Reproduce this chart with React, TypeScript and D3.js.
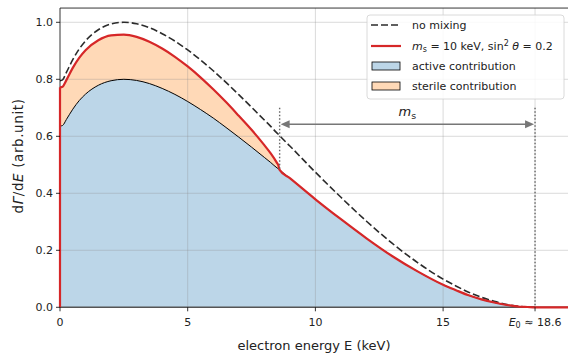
import React, { useEffect, useRef } from 'react';
import * as d3 from 'd3';

// electron energy (keV)
const energy = [0, 0.1, 0.25, 0.5, 0.75, 1, 1.5, 2, 2.5, 3, 3.5, 4, 4.5, 5, 5.5, 6, 6.5, 7, 7.5, 8, 8.25, 8.5, 8.55, 8.6,
  9, 10, 11, 12, 13, 14, 15, 15.5, 16, 16.5, 17, 17.5, 18, 18.3, 18.6];
// no mixing spectrum (dashed)
const noMixing = [0.795, 0.798, 0.824, 0.869, 0.906, 0.935, 0.974, 0.994, 1.0, 0.995, 0.981, 0.96, 0.934, 0.903, 0.868, 0.83,
  0.789, 0.746, 0.702, 0.657, 0.635, 0.611, 0.607, 0.602, 0.566, 0.474, 0.386, 0.302, 0.225, 0.157, 0.099, 0.075, 0.053,
  0.035, 0.021, 0.01, 0.003, 0.001, 0];
// active contribution (blue)
const active = [0.636, 0.638, 0.659, 0.695, 0.725, 0.748, 0.779, 0.795, 0.8, 0.796, 0.785, 0.768, 0.747, 0.722, 0.694, 0.664,
  0.631, 0.597, 0.562, 0.526, 0.508, 0.489, 0.486, 0.482, 0.453, 0.379, 0.309, 0.242, 0.18, 0.126, 0.079, 0.06, 0.042,
  0.028, 0.017, 0.008, 0.002, 0.001, 0];
// with sterile mixing, only up to E0 - ms
const mixed = [0.772, 0.774, 0.797, 0.84, 0.875, 0.902, 0.937, 0.954, 0.957, 0.949, 0.932, 0.908, 0.879, 0.845, 0.807, 0.765,
  0.72, 0.672, 0.623, 0.569, 0.54, 0.506, 0.498, 0.482];

const E0 = 18.6;
const kinkE = 8.6;
const xTicks = [0, 5, 10, 15];
const yTicks = [0, 0.2, 0.4, 0.6, 0.8, 1.0];
const legendLabels = ['no mixing', 'ms', 'active contribution', 'sterile contribution'];

const FONT = 'DejaVu Sans, sans-serif';
const RED = '#d62728';

const App = () => {
  const svgRef = useRef<SVGSVGElement>(null);

  useEffect(() => {
    const W = 568, H = 356;
    const margin = { top: 8, left: 60 };
    const root = d3.select(svgRef.current);
    root.selectAll('*').remove();
    root.attr('width', W).attr('height', H);

    const x = d3.scaleLinear().domain([0, 20]).range([margin.left, margin.left + 20 * 25.54]);
    const y = d3.scaleLinear().domain([0, 1.05]).range([307.3, 307.3 - 1.05 * 285]);

    const svg = root.append('g');
    const pts = energy.map((e, i) => ({ e, nm: noMixing[i], a: active[i] }));
    const mixPts = mixed.map((v, i) => ({ e: energy[i], a: active[i], m: v }));

    // fills
    svg.append('path')
      .datum(pts)
      .attr('d', d3.area<any>().x(d => x(d.e)).y0(y(0)).y1(d => y(d.a)).curve(d3.curveMonotoneX))
      .attr('fill', '#bcd6e8');
    svg.append('path')
      .datum(mixPts)
      .attr('d', d3.area<any>().x(d => x(d.e)).y0(d => y(d.a)).y1(d => y(d.m)).curve(d3.curveMonotoneX))
      .attr('fill', '#ffd9b7');

    // grid
    const grid = svg.append('g').attr('stroke', '#8a8a8a').attr('stroke-opacity', 0.4).attr('stroke-width', 0.8);
    [...xTicks.slice(1), E0].forEach(t => {
      grid.append('line').attr('x1', x(t)).attr('x2', x(t)).attr('y1', y(1.05)).attr('y2', y(0));
    });
    yTicks.slice(1).forEach(t => {
      grid.append('line').attr('x1', x(0)).attr('x2', W).attr('y1', y(t)).attr('y2', y(t));
    });

    // active line
    svg.append('path')
      .datum(pts)
      .attr('d', d3.line<any>().x(d => x(d.e)).y(d => y(d.a)).curve(d3.curveMonotoneX))
      .attr('fill', 'none').attr('stroke', '#000').attr('stroke-width', 1);

    // no mixing
    svg.append('path')
      .datum(pts)
      .attr('d', d3.line<any>().x(d => x(d.e)).y(d => y(d.nm)).curve(d3.curveMonotoneX))
      .attr('fill', 'none').attr('stroke', '#2b2b2b').attr('stroke-width', 1.6).attr('stroke-dasharray', '7,3');

    // bottom spine
    svg.append('line').attr('x1', x(0)).attr('x2', W).attr('y1', y(0)).attr('y2', y(0))
      .attr('stroke', '#555').attr('stroke-width', 1.6);
    // top / left spine
    svg.append('line').attr('x1', x(0)).attr('x2', W).attr('y1', y(1.05)).attr('y2', y(1.05))
      .attr('stroke', '#000').attr('stroke-width', 0.8);
    svg.append('line').attr('x1', x(0)).attr('x2', x(0)).attr('y1', y(1.05)).attr('y2', y(0))
      .attr('stroke', '#000').attr('stroke-width', 0.8);

    // mixed spectrum line
    const redPts = [
      ...mixPts.map(d => [d.e, d.m]),
      ...pts.filter(d => d.e > kinkE).map(d => [d.e, d.a]),
      [20, 0],
    ];
    svg.append('line').attr('x1', x(0)).attr('x2', x(0)).attr('y1', y(0)).attr('y2', y(mixed[0]))
      .attr('stroke', RED).attr('stroke-width', 2.2);
    svg.append('path')
      .datum(redPts)
      .attr('d', d3.line<any>().x(d => x(d[0])).y(d => y(d[1])).curve(d3.curveMonotoneX))
      .attr('fill', 'none').attr('stroke', RED).attr('stroke-width', 2.2).attr('stroke-linejoin', 'round');

    // dotted markers
    svg.append('line').attr('x1', x(kinkE)).attr('x2', x(kinkE)).attr('y1', y(0.70)).attr('y2', y(mixed[mixed.length - 1]))
      .attr('stroke', '#666').attr('stroke-width', 1.4).attr('stroke-dasharray', '1.5,2');
    svg.append('line').attr('x1', x(E0)).attr('x2', x(E0)).attr('y1', y(0.70)).attr('y2', y(0))
      .attr('stroke', '#666').attr('stroke-width', 1.4).attr('stroke-dasharray', '1.5,2');

    // ms arrow
    const ay = y(0.642);
    const a1 = x(kinkE) + 1, a2 = x(E0) - 1;
    svg.append('line').attr('x1', a1 + 6).attr('x2', a2 - 6).attr('y1', ay).attr('y2', ay)
      .attr('stroke', '#777').attr('stroke-width', 1.5);
    svg.append('path').attr('d', `M${a1},${ay} l9,-4 l0,8 z`).attr('fill', '#777');
    svg.append('path').attr('d', `M${a2},${ay} l-9,-4 l0,8 z`).attr('fill', '#777');
    const msText = svg.append('text').attr('x', x((kinkE + E0) / 2)).attr('y', ay - 8)
      .attr('text-anchor', 'middle').attr('font-family', FONT).attr('font-size', 13).attr('fill', '#222');
    msText.append('tspan').attr('font-style', 'italic').text('m');
    msText.append('tspan').attr('font-size', 9.5).attr('dy', 2.5).text('s');

    // x ticks
    const xt = svg.append('g').attr('font-family', FONT).attr('font-size', 11).attr('fill', '#222');
    [...xTicks, E0].forEach(t => {
      xt.append('line').attr('x1', x(t)).attr('x2', x(t)).attr('y1', y(0)).attr('y2', y(0) + 4)
        .attr('stroke', '#000').attr('stroke-width', 0.8);
    });
    xTicks.forEach(t => {
      xt.append('text').attr('x', x(t)).attr('y', y(0) + 18.5).attr('text-anchor', 'middle').text(t);
    });
    const e0Label = xt.append('text').attr('x', x(E0)).attr('y', y(0) + 18.5).attr('text-anchor', 'middle');
    e0Label.append('tspan').attr('font-style', 'italic').text('E');
    e0Label.append('tspan').attr('font-size', 8).attr('dy', 2).text('0');
    e0Label.append('tspan').attr('dy', -2).text(' ≈ 18.6');

    // y ticks
    yTicks.forEach(t => {
      xt.append('line').attr('x1', x(0) - 4).attr('x2', x(0)).attr('y1', y(t)).attr('y2', y(t))
        .attr('stroke', '#000').attr('stroke-width', 0.8);
      xt.append('text').attr('x', x(0) - 7).attr('y', y(t) + 4).attr('text-anchor', 'end').text(d3.format('.1f')(t));
    });

    // axis labels
    svg.append('text').attr('x', 314).attr('y', 350).attr('text-anchor', 'middle')
      .attr('font-family', FONT).attr('font-size', 13).attr('fill', '#222').text('electron energy E (keV)');
    const yl = svg.append('text').attr('transform', 'translate(23,156) rotate(-90)').attr('text-anchor', 'middle')
      .attr('font-family', FONT).attr('font-size', 13.5).attr('letter-spacing', 0.6).attr('fill', '#222');
    yl.append('tspan').text('d');
    yl.append('tspan').attr('font-style', 'italic').text('Γ');
    yl.append('tspan').text('/d');
    yl.append('tspan').attr('font-style', 'italic').text('E');
    yl.append('tspan').text('  (arb.unit)');

    // legend
    const lg = svg.append('g').attr('font-family', FONT).attr('font-size', 11).attr('fill', '#222');
    lg.append('rect').attr('x', 367).attr('y', 15).attr('width', 197).attr('height', 84).attr('rx', 3)
      .attr('fill', '#fff').attr('fill-opacity', 0.85).attr('stroke', '#d0d0d0').attr('stroke-width', 0.8);
    const rowY = [25, 46, 66, 86];
    lg.append('line').attr('x1', 371).attr('x2', 401).attr('y1', rowY[0]).attr('y2', rowY[0])
      .attr('stroke', '#2b2b2b').attr('stroke-width', 1.6).attr('stroke-dasharray', '7,3');
    lg.append('line').attr('x1', 371).attr('x2', 401).attr('y1', rowY[1]).attr('y2', rowY[1])
      .attr('stroke', RED).attr('stroke-width', 2.2);
    lg.append('rect').attr('x', 372).attr('y', rowY[2] - 4).attr('width', 28).attr('height', 8)
      .attr('fill', '#bcd6e8').attr('stroke', '#000').attr('stroke-width', 0.8);
    lg.append('rect').attr('x', 372).attr('y', rowY[3] - 4).attr('width', 28).attr('height', 8)
      .attr('fill', '#ffd9b7').attr('stroke', '#000').attr('stroke-width', 0.8);
    legendLabels.forEach((l, i) => {
      const t = lg.append('text').attr('x', 412).attr('y', rowY[i] + 4);
      if (i !== 1) { t.text(l); return; }
      t.append('tspan').attr('font-style', 'italic').text('m');
      t.append('tspan').attr('font-size', 8).attr('dy', 2).text('s');
      t.append('tspan').attr('dy', -2).text(' = 10 keV, sin');
      t.append('tspan').attr('font-size', 8).attr('dy', -4).text('2');
      t.append('tspan').attr('dy', 4).attr('font-style', 'italic').text(' θ');
      t.append('tspan').text(' = 0.2');
    });
  }, []);

  return (
    <svg ref={svgRef} style={{ position: 'absolute', left: 0, top: 0 }}></svg>
  );
};

export default App;
